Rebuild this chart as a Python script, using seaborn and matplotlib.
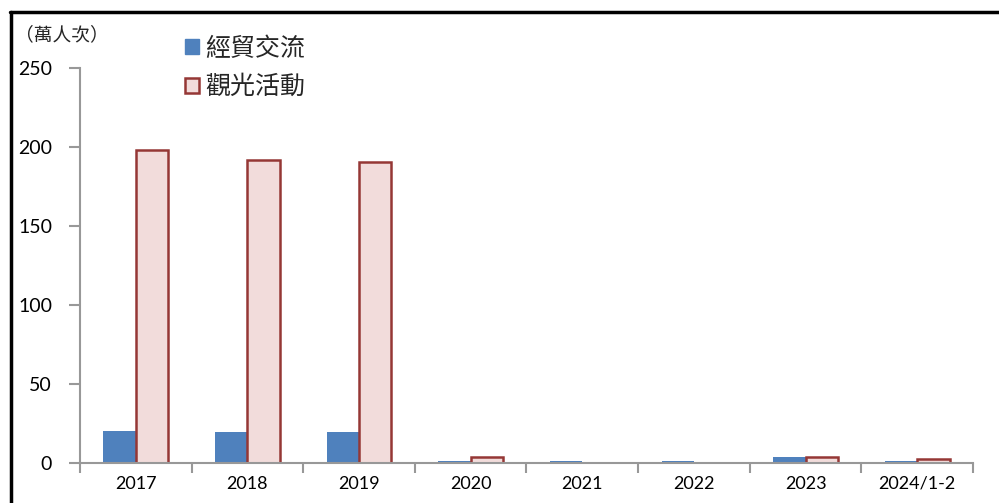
import matplotlib
matplotlib.use('Agg')
import matplotlib.pyplot as plt
import pandas as pd
import seaborn as sns
from matplotlib.lines import Line2D
from matplotlib.patches import Patch

years = ['2017', '2018', '2019', '2020', '2021', '2022', '2023', '2024/1-2']
trade = [20.3, 19.4, 19.4, 1.0, 1.0, 1.0, 3.8, 1.0]
tourism = [198.0, 191.5, 190.5, 3.6, 0.0, 0.0, 3.8, 2.7]
series = ['經貿交流', '觀光活動']

fills = ['#4F81BD', '#F2DCDB']
edges = ['#4F81BD', '#953735']

sns.set_style('white')
plt.rcParams['font.family'] = ['Lato', 'Noto Sans CJK TC', 'DejaVu Sans']

df = pd.DataFrame({
    'year': years * 2,
    'value': trade + tourism,
    'series': [series[0]] * len(years) + [series[1]] * len(years),
})

fig = plt.figure(figsize=(9.99, 5.03), dpi=100)
ax = fig.add_axes([0.080, 0.0795, 0.894, 0.7855])

sns.barplot(data=df, x='year', y='value', hue='series', hue_order=series,
            palette=fills, width=0.58, ax=ax, legend=False, saturation=1)

for cont, ec, lw in zip(ax.containers, edges, [0, 1.8]):
    for p in cont:
        p.set_edgecolor(ec)
        p.set_linewidth(lw)

ax.set_ylim(0, 250)
ax.set_xlim(-0.5, len(years) - 0.5)
ax.set_yticks(range(0, 251, 50))
ax.set_xlabel('')
ax.set_ylabel('')

for side in ['top', 'right']:
    ax.spines[side].set_visible(False)
for side in ['left', 'bottom']:
    ax.spines[side].set_color('#989898')
    ax.spines[side].set_linewidth(1.5)

ax.tick_params(axis='y', left=True, length=8, width=1.5, color='#989898',
               labelsize=14, pad=12, labelcolor='black')
ax.tick_params(axis='x', which='major', bottom=False, length=0, labelsize=13,
               pad=9, labelcolor='black')
# category boundary ticks on the x axis
ax.set_xticks([i - 0.5 for i in range(len(years) + 1)], minor=True)
ax.tick_params(axis='x', which='minor', bottom=True, length=7, width=1.5,
               color='#989898', direction='out')

fig.text(0.015, 0.932, '（萬人次）', fontsize=13.5, family=['Noto Sans CJK TC'], va='center')

handles = [Patch(facecolor=fills[0], edgecolor=fills[0]),
           Patch(facecolor=fills[1], edgecolor=edges[1], linewidth=1.8)]
fig.legend(handles, series, loc='upper left', bbox_to_anchor=(0.163, 0.974),
           frameon=False, prop={'family': 'Noto Sans CJK TC', 'size': 18},
           handlelength=0.55, handleheight=0.55, handletextpad=0.25, labelspacing=0.5)

# partial frame around the figure (top and left only)
fig.add_artist(Line2D([0.010, 1.0], [0.976, 0.976], color='black', lw=2.5, transform=fig.transFigure))
fig.add_artist(Line2D([0.011, 0.011], [0.0, 0.976], color='black', lw=2.5, transform=fig.transFigure))

fig.savefig('out.png', dpi=100)
plt.close()
